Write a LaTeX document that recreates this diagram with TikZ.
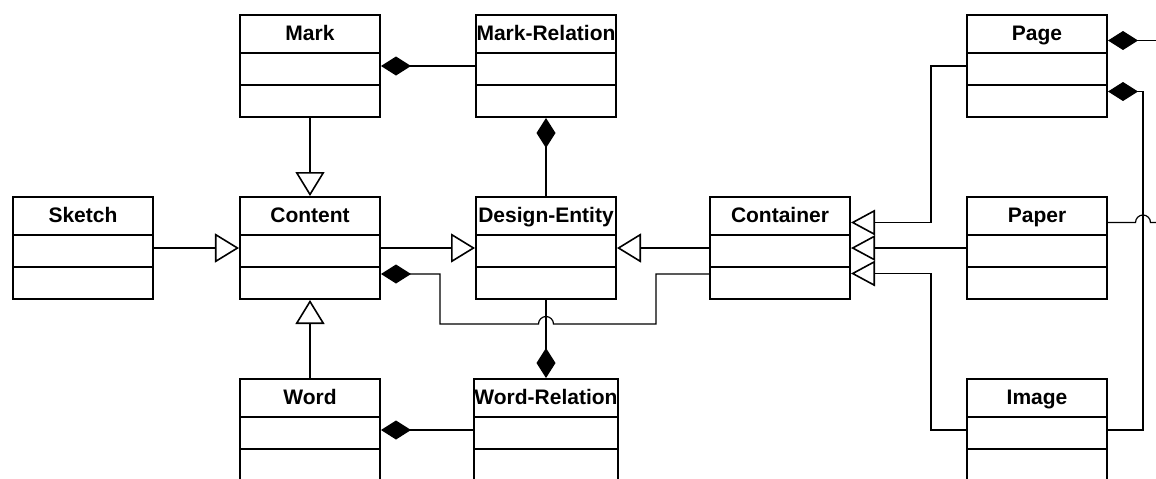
\documentclass[tikz,border=0pt]{standalone}
\usepackage{fontspec}
\setsansfont{Liberation Sans}
\usetikzlibrary{arrows.meta,positioning,shapes.multipart}

% struts for the three compartments of a class box
\newcommand{\namestrut}{\rule[-6pt]{0pt}{18pt}}
\newcommand{\slotstrut}{\rule{0pt}{15pt}}
\newcommand{\umlclass}[1]{\namestrut#1\nodepart{two}\slotstrut\nodepart{three}\slotstrut}

\begin{document}
\begin{tikzpicture}
[node distance = 39pt,
% STYLES
% The class style draws a box with name, attribute and operation slots
class/.style={rectangle split, rectangle split parts=3, draw, line width=1pt, minimum width=70pt, inner xsep=0pt, inner ysep=0pt, font=\bfseries\sffamily\fontsize{10.5}{12}\selectfont},
% plain line between classes
link/.style={line width=0.6pt},
% generalisation and composition ends
inherit/.style={link, -{Triangle[open, length=12pt, width=14.5pt, line width=0.8pt]}},
fanin/.style={link, -{Triangle[open, length=12pt, width=12.75pt, line width=0.8pt]}},
compose/.style={link, {Diamond[length=15pt, width=9.5pt]}-}]

\useasboundingbox (-155pt,-115pt) rectangle (423pt,124pt);
\clip (-155pt,-115pt) rectangle (423pt,124pt);

% Draw classes
\node [class] (content) at (0,0) {\umlclass{Content}};
\node [class, above=39pt of content] (mark) {\umlclass{Mark}};
\node [class, below=39pt of content] (word) {\umlclass{Word}};
\node [class, left=42.5pt of content] (sketch) {\umlclass{Sketch}};
\node [class, right=47pt of content] (entity) {\umlclass{Design-Entity}};
\node [class, above=39pt of entity] (markrel) {\umlclass{Mark-Relation}};
\node [class, below=39pt of entity] (wordrel) {\umlclass{Word-Relation}};
\node [class, right=46pt of entity] (container) {\umlclass{Container}};
\node [class, right=57.5pt of container] (paper) {\umlclass{Paper}};
\node [class, above=39pt of paper] (page) {\umlclass{Page}};
\node [class, below=39pt of paper] (image) {\umlclass{Image}};

% loose ends running on to the right
\coordinate (pageout) at ([xshift=30pt,yshift=12.75pt]page.east);
\coordinate (paperout) at ([xshift=30pt,yshift=12.75pt]paper.east);

% Draw the generalisations
\draw[inherit] (sketch) -- (content);
\draw[inherit] (mark) -- (content);
\draw[inherit] (word) -- (content);
\draw[inherit] (content) -- (entity);
\draw[inherit] (container) -- (entity);
\draw[fanin] (page.west) -- ++(-17.5pt,0) |- ([yshift=12.75pt]container.east);
\draw[fanin] (paper) -- (container);
\draw[fanin] (image.west) -- ++(-17.5pt,0) |- ([yshift=-12.75pt]container.east);

% Draw the compositions
\draw[compose] (mark) -- (markrel);
\draw[compose] (markrel) -- (entity);
\draw[compose] (wordrel) -- (entity);
\draw[compose] (word) -- (wordrel);
\draw[compose] ([yshift=-13pt]content.east) -- ++(29.5pt,0)
  |- ([xshift=-3.75pt,yshift=-12pt]entity.south)
  arc[start angle=180, end angle=0, radius=3.75pt]
  -| ([xshift=-26.5pt,yshift=-13pt]container.west) -- ([yshift=-13pt]container.west);
\draw[compose] ([yshift=12.75pt]page.east) -- (pageout);
\draw[compose] ([yshift=-12.75pt]page.east) -- ++(17.5pt,0) |- (image.east);
\draw[link] ([yshift=12.75pt]paper.east) -- ++(13.75pt,0)
  arc[start angle=180, end angle=0, radius=3.75pt] -- (paperout);

\end{tikzpicture}
\end{document}
